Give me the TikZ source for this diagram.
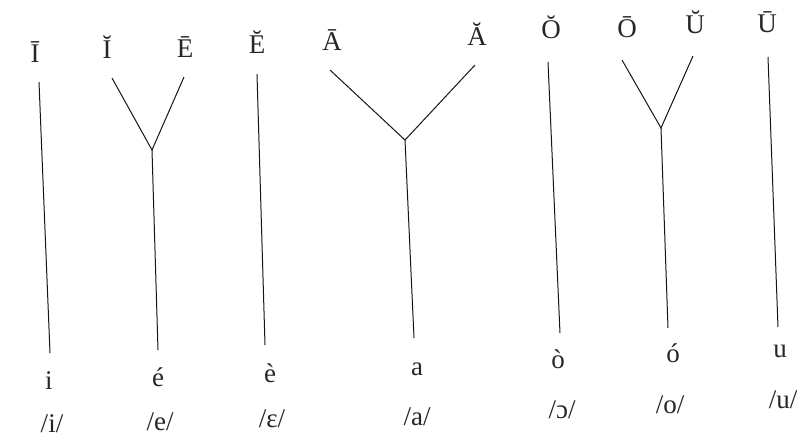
\documentclass[tikz,border=0pt]{standalone}
\usepackage{fontspec}
\setmainfont{Liberation Serif}
\begin{document}
\begin{tikzpicture}[x=1pt,y=-1pt,
  lbl/.style={anchor=base,inner sep=0pt,text=black!85,font=\fontsize{27}{30}\selectfont},
  ln/.style={line width=1pt,draw=black!85!brown}]
\useasboundingbox (0,0) rectangle (812,440);
% top labels
\node[lbl] (I1) at (35,62) {Ī};
\node[lbl] (I2) at (107,58) {Ĭ};
\node[lbl] (E1) at (185,57) {Ē};
\node[lbl] (E2) at (257,53) {Ĕ};
\node[lbl] (A1) at (332,50) {Ā};
\node[lbl] (A2) at (477,45) {Ă};
\node[lbl] (O2) at (551,38) {Ŏ};
\node[lbl] (O1) at (627,37) {Ō};
\node[lbl] (U2) at (695,33) {Ŭ};
\node[lbl] (U1) at (767,32) {Ū};
% bottom labels
\node[lbl] (i) at (49,389) {i};
\node[lbl] (e) at (158,386) {é};
\node[lbl] (eo) at (270,382) {è};
\node[lbl] (a) at (417,375) {a};
\node[lbl] (oo) at (558,368) {ò};
\node[lbl] (o) at (673,362) {ó};
\node[lbl] (u) at (780,357) {u};
% IPA
\node[lbl] (pi) at (52,432) {/i/};
\node[lbl] (pe) at (160,430) {/e/};
\node[lbl] (peo) at (272,427) {/ɛ/};
\node[lbl] (pa) at (417,425) {/a/};
\node[lbl] (poo) at (562,418) {/ɔ/};
\node[lbl] (po) at (670,413) {/o/};
\node[lbl] (pu) at (783,408) {/u/};
% line ends
\coordinate (tI1) at (39,82);   \coordinate (bI1) at (50,353);
\coordinate (tI2) at (112,78);  \coordinate (tE1) at (184,77);
\coordinate (jIE) at (152,150); \coordinate (bIE) at (158,350);
\coordinate (tE2) at (257,74);  \coordinate (bE2) at (265,345);
\coordinate (tA1) at (330,70);  \coordinate (tA2) at (475,65);
\coordinate (jA) at (405,140);  \coordinate (bA) at (414,338);
\coordinate (tO2) at (548,62);  \coordinate (bO2) at (560,333);
\coordinate (tO1) at (622,60);  \coordinate (tU2) at (693,56);
\coordinate (jOU) at (661,128); \coordinate (bOU) at (668,328);
\coordinate (tU1) at (768,57);  \coordinate (bU1) at (778,327);
% connectors
\draw[ln] (tI1) -- (bI1);
\draw[ln] (tI2) -- (jIE) -- (tE1);
\draw[ln] (jIE) -- (bIE);
\draw[ln] (tE2) -- (bE2);
\draw[ln] (tA1) -- (jA) -- (tA2);
\draw[ln] (jA) -- (bA);
\draw[ln] (tO2) -- (bO2);
\draw[ln] (tO1) -- (jOU) -- (tU2);
\draw[ln] (jOU) -- (bOU);
\draw[ln] (tU1) -- (bU1);
\end{tikzpicture}
\end{document}
